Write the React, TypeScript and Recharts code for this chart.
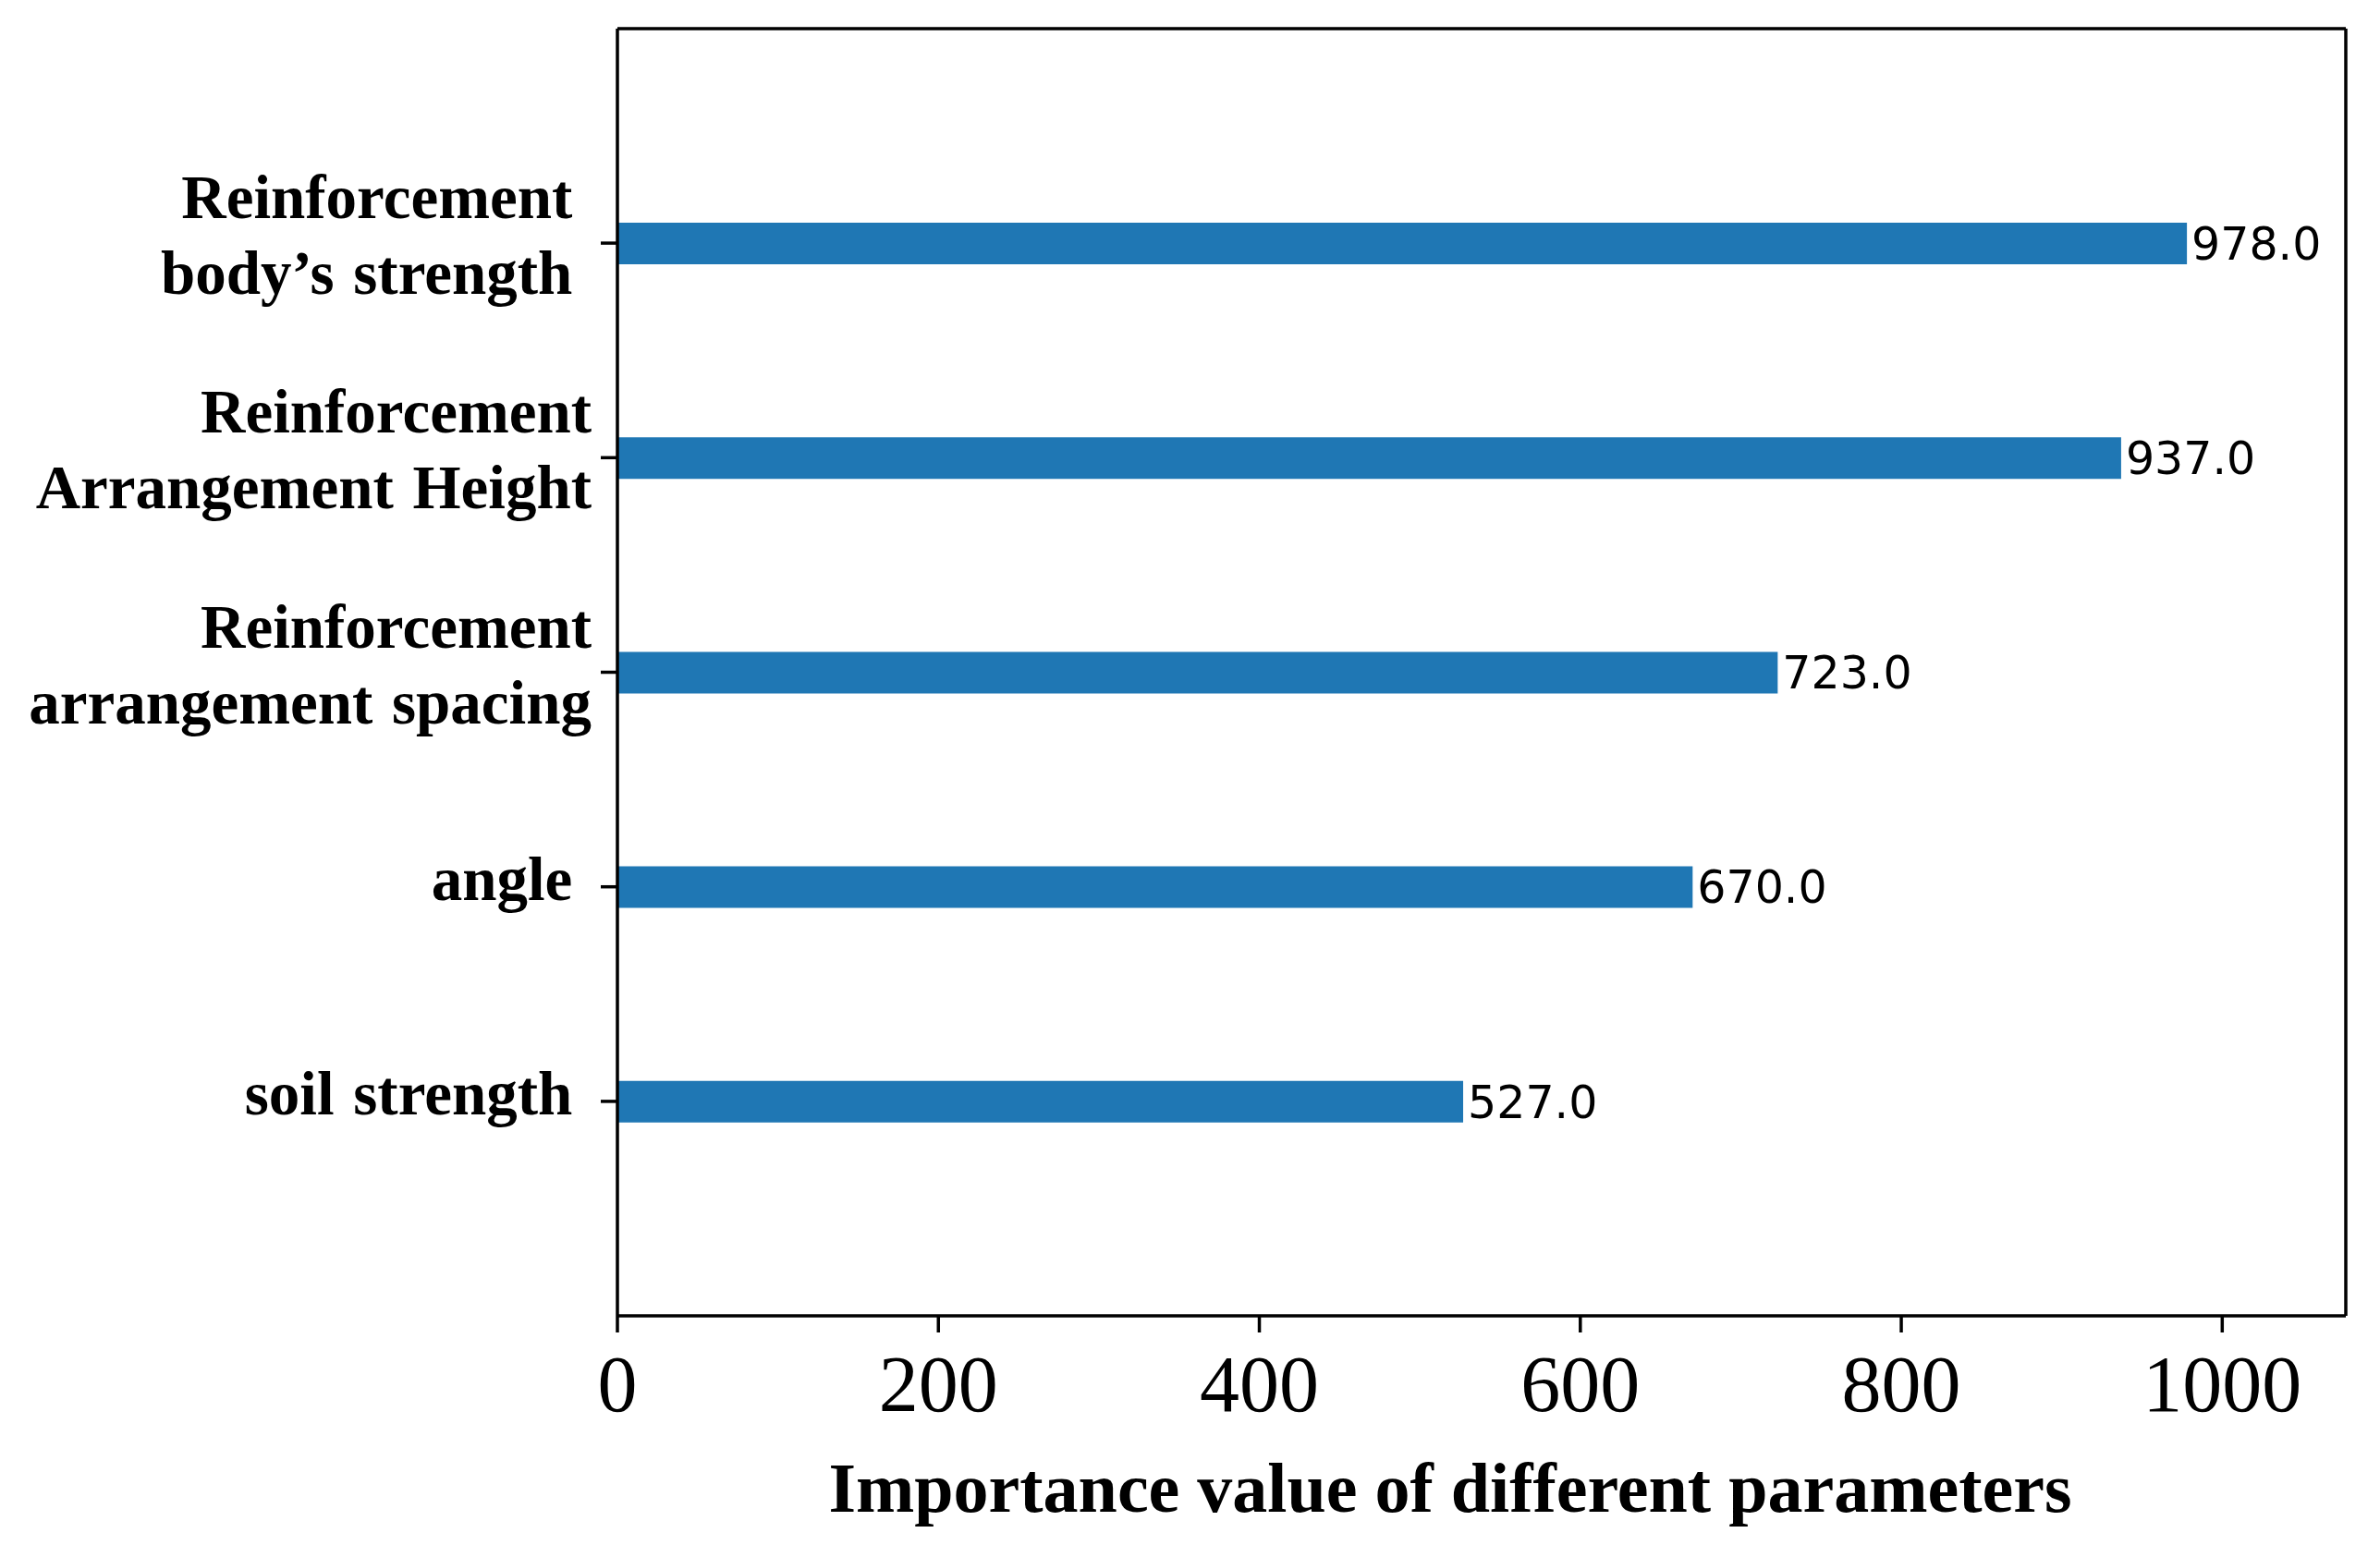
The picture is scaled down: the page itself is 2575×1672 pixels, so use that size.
import { BarChart, Bar, XAxis, YAxis, LabelList, Label } from "recharts";

// parameters, top to bottom (trailing spaces are in the original labels)
const parameters: Array<string> = [
  "Reinforcement \nbody’s strength ",
  "Reinforcement\nArrangement Height",
  "Reinforcement\narrangement spacing",
  "angle ",
  "soil strength ",
];
const importance: Array<number> = [978.0, 937.0, 723.0, 670.0, 527.0];
const xTicks: Array<number> = [0, 200, 400, 600, 800, 1000];

const data = parameters.map((name, i) => ({ name, value: importance[i] }));

const serif = "'Liberation Serif', 'Times New Roman', serif";
const spine = { stroke: "#000", strokeWidth: 3.5 };

const ParamTick = (props: any) => {
  const { x, y, payload } = props;
  const lines: Array<string> = String(payload.value).split("\n");
  const first = lines.length === 1 ? 14 : -27;
  return (
    <text
      x={x}
      y={y}
      textAnchor="end"
      fontFamily={serif}
      fontWeight="bold"
      fontSize={67}
      fill="#000"
      style={{ whiteSpace: "pre", wordSpacing: "4px" }}
    >
      {lines.map((line, i) => (
        <tspan key={i} x={x} y={y + first + i * 82}>
          {line.replace(/ $/, "\u00a0")}
        </tspan>
      ))}
    </text>
  );
};

const AxisTitle = (props: any) => {
  const { viewBox } = props;
  return (
    <text
      x={viewBox.x + viewBox.width / 2 - 34}
      y={viewBox.y + 212}
      textAnchor="middle"
      fontFamily={serif}
      fontWeight="bold"
      fontSize={76}
      fill="#000"
    >
      Importance value of different parameters
    </text>
  );
};

const App = () => {
  return (
    <div style={{ position: "absolute", left: 0, top: 0, background: "#fff" }}>
      <BarChart
        width={2575}
        height={1672}
        data={data}
        layout="vertical"
        margin={{ top: 30, right: 36, left: 0, bottom: 0 }}
      >
        <XAxis
          type="number"
          domain={[0, 1077]}
          ticks={xTicks}
          allowDataOverflow
          height={248}
          tickSize={18}
          tickMargin={24}
          stroke="#000"
          axisLine={spine}
          tickLine={spine}
          tick={{ fontFamily: serif, fontSize: 86, fill: "#000" }}
        >
          <Label content={<AxisTitle />} />
        </XAxis>
        <XAxis
          xAxisId="top"
          orientation="top"
          type="number"
          domain={[0, 1077]}
          allowDataOverflow
          height={1}
          tick={false}
          tickLine={false}
          axisLine={spine}
        />
        <YAxis
          type="category"
          dataKey="name"
          width={668}
          padding={{ top: 116, bottom: 116 }}
          tickSize={18}
          tickMargin={10}
          interval={0}
          axisLine={spine}
          tickLine={spine}
          tick={<ParamTick />}
        />
        <YAxis
          yAxisId="right"
          orientation="right"
          type="category"
          dataKey="name"
          width={1}
          tick={false}
          tickLine={false}
          axisLine={spine}
        />
        <Bar dataKey="value" fill="#1f77b4" barSize={45} isAnimationActive={false}>
          <LabelList
            dataKey="value"
            position="right"
            offset={5}
            formatter={(v: any) => Number(v).toFixed(1)}
            style={{ fontFamily: "'DejaVu Sans', sans-serif", fontSize: 49, fill: "#000" }}
          />
        </Bar>
      </BarChart>
    </div>
  );
};

export default App;
